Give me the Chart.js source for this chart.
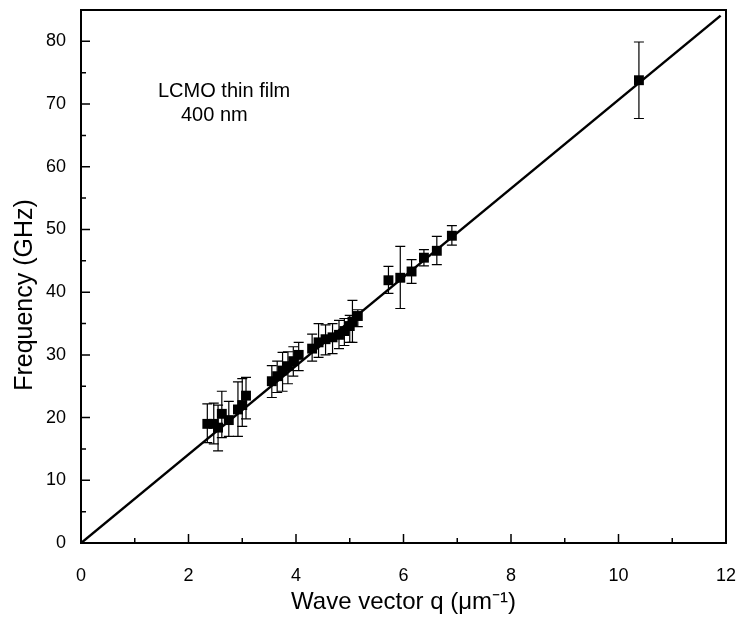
<!DOCTYPE html>
<html>
<head>
<meta charset="utf-8">
<script src="https://cdn.jsdelivr.net/npm/chart.js@4.4.1/dist/chart.umd.min.js"></script>
<style>
  html, body { margin: 0; padding: 0; background: #fff; }
  #wrap { width: 738px; height: 619px; }
</style>
</head>
<body>
<div id="wrap"><canvas id="chart" width="738" height="619"></canvas></div>
<script>
// Measured points: wave vector q (um^-1), frequency (GHz), error bar ends
const qValues = [2.35, 2.47, 2.55, 2.62, 2.75, 2.92, 3.00, 3.07,
    3.55, 3.65, 3.75, 3.85, 3.95, 4.05,
    4.30, 4.42, 4.55, 4.68, 4.80, 4.90, 5.00, 5.05, 5.15,
    5.72, 5.94, 6.15, 6.38, 6.62, 6.90, 10.38];
const freqValues = [19.0, 19.0, 18.4, 20.6, 19.6, 21.3, 22.0, 23.5,
    25.8, 26.6, 27.5, 28.2, 29.0, 30.0,
    31.0, 32.0, 32.5, 32.8, 33.2, 33.8, 34.6, 35.3, 36.2,
    41.9, 42.3, 43.3, 45.5, 46.6, 49.0, 73.8];
const errLow = [16.0, 15.8, 14.7, 16.8, 17.0, 17.0, 18.6, 19.8,
    23.2, 24.0, 24.2, 25.4, 26.6, 27.5,
    29.0, 29.6, 30.0, 30.2, 31.0, 31.5, 32.0, 32.0, 34.5,
    39.8, 37.4, 41.4, 44.2, 44.4, 47.5, 67.7];
const errHigh = [22.2, 22.3, 22.0, 24.2, 22.6, 25.7, 26.2, 26.4,
    28.3, 29.0, 30.4, 30.5, 31.3, 32.0,
    33.3, 35.0, 34.8, 35.0, 35.5, 35.8, 36.3, 38.7, 37.2,
    44.1, 47.3, 45.2, 46.8, 48.9, 50.6, 79.9];

// Linear fit line end points
const fitQ = [0, 11.9];
const fitF = [0, 84.1];

// Axis ticks
const xMajorTicks = [0, 2, 4, 6, 8, 10, 12];
const xMinorTicks = [1, 3, 5, 7, 9, 11];
const yMajorTicks = [0, 10, 20, 30, 40, 50, 60, 70, 80];
const yMinorTicks = [5, 15, 25, 35, 45, 55, 65, 75];

const points = qValues.map((q, i) => ({ x: q, y: freqValues[i] }));
const fitLine = fitQ.map((q, i) => ({ x: q, y: fitF[i] }));

const fontFamily = '"Liberation Sans", Arial, sans-serif';

// error bars drawn through the scales
const errorBars = {
    id: 'errorBars',
    beforeDatasetsDraw(chart) {
        const ctx = chart.ctx;
        const xs = chart.scales.x;
        const ys = chart.scales.y;
        ctx.save();
        ctx.strokeStyle = '#000';
        ctx.lineWidth = 1.2;
        qValues.forEach((q, i) => {
            const px = xs.getPixelForValue(q);
            const lo = ys.getPixelForValue(errLow[i]);
            const hi = ys.getPixelForValue(errHigh[i]);
            ctx.beginPath();
            ctx.moveTo(px, lo);
            ctx.lineTo(px, hi);
            ctx.moveTo(px - 5, lo);
            ctx.lineTo(px + 5, lo);
            ctx.moveTo(px - 5, hi);
            ctx.lineTo(px + 5, hi);
            ctx.stroke();
        });
        ctx.restore();
    }
};

// frame, inward tick marks, y title and the sample label
const frame = {
    id: 'frame',
    afterDraw(chart) {
        const ctx = chart.ctx;
        const a = chart.chartArea;
        const xs = chart.scales.x;
        const ys = chart.scales.y;
        ctx.save();
        ctx.strokeStyle = '#000';
        ctx.lineWidth = 2;
        ctx.strokeRect(a.left, a.top, a.right - a.left, a.bottom - a.top);

        ctx.lineWidth = 1.5;
        ctx.beginPath();
        xMajorTicks.forEach(v => {
            const px = xs.getPixelForValue(v);
            ctx.moveTo(px, a.bottom);
            ctx.lineTo(px, a.bottom - 9);
        });
        xMinorTicks.forEach(v => {
            const px = xs.getPixelForValue(v);
            ctx.moveTo(px, a.bottom);
            ctx.lineTo(px, a.bottom - 5);
        });
        yMajorTicks.forEach(v => {
            const py = ys.getPixelForValue(v);
            ctx.moveTo(a.left, py);
            ctx.lineTo(a.left + 9, py);
        });
        yMinorTicks.forEach(v => {
            const py = ys.getPixelForValue(v);
            ctx.moveTo(a.left, py);
            ctx.lineTo(a.left + 5, py);
        });
        ctx.stroke();

        ctx.fillStyle = '#000';
        ctx.font = '20px ' + fontFamily;
        ctx.textBaseline = 'alphabetic';
        ctx.textAlign = 'left';
        ctx.fillText('LCMO thin film', 158, 97);
        ctx.fillText('400 nm', 181, 121);

        // y axis title, sits a little below the axis centre in the original
        ctx.translate(25, 295);
        ctx.rotate(-Math.PI / 2);
        ctx.font = '25px ' + fontFamily;
        ctx.textAlign = 'center';
        ctx.textBaseline = 'middle';
        ctx.fillText('Frequency (GHz)', 0, 0);
        ctx.restore();
    }
};

new Chart(document.getElementById('chart'), {
    type: 'scatter',
    data: {
        datasets: [{
            label: 'data',
            data: points,
            pointStyle: 'rect',
            pointRadius: 7,
            pointHoverRadius: 7,
            backgroundColor: '#000',
            borderColor: '#000',
            borderWidth: 0
        }, {
            type: 'line',
            label: 'fit',
            data: fitLine,
            borderColor: '#000',
            borderWidth: 2.5,
            pointRadius: 0,
            fill: false
        }]
    },
    options: {
        responsive: false,
        devicePixelRatio: 1,
        animation: false,
        layout: { padding: { left: 0, right: 12, top: 10, bottom: 0 } },
        plugins: {
            legend: { display: false },
            tooltip: { enabled: false }
        },
        scales: {
            x: {
                type: 'linear',
                min: 0,
                max: 12,
                grid: { display: false, drawTicks: false },
                border: { display: false },
                afterBuildTicks: (scale) => { scale.ticks = xMajorTicks.map(v => ({ value: v })); },
                afterFit: (scale) => {
                    scale.height = 76;
                    scale.paddingLeft = 0;
                    scale.paddingRight = 0;
                },
                ticks: {
                    color: '#000',
                    padding: 22,
                    maxRotation: 0,
                    font: { family: fontFamily, size: 18 }
                },
                title: {
                    display: true,
                    text: 'Wave vector q (\u03bcm\u207b\u00b9)',
                    color: '#000',
                    padding: { top: 0, bottom: 2 },
                    font: { family: fontFamily, size: 24 }
                }
            },
            y: {
                type: 'linear',
                min: 0,
                max: 85,
                grid: { display: false, drawTicks: false },
                border: { display: false },
                afterBuildTicks: (scale) => { scale.ticks = yMajorTicks.map(v => ({ value: v })); },
                afterFit: (scale) => {
                    scale.width = 81;
                    scale.paddingTop = 0;
                    scale.paddingBottom = 0;
                },
                ticks: {
                    color: '#000',
                    padding: 15,
                    font: { family: fontFamily, size: 18 }
                },
                title: { display: false }
            }
        }
    },
    plugins: [errorBars, frame]
});
</script>
</body>
</html>
